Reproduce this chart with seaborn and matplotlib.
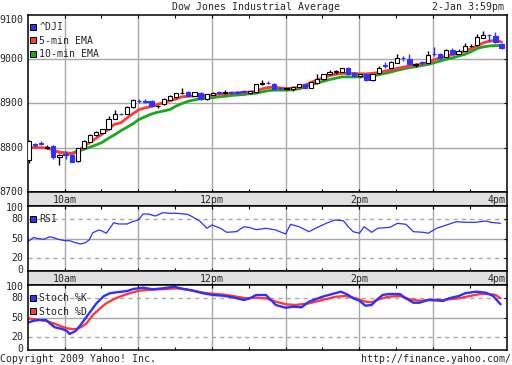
# Dow Jones intraday chart (2-Jan-2009): 5-min candles + EMAs, RSI and stochastic panels

import numpy as np
import matplotlib
matplotlib.use("Agg")
from matplotlib import pyplot as plt
from matplotlib.lines import Line2D
import seaborn as sns

# ---- data ----------------------------------------------------------------
# 5-min bars from 9:30 to 4pm
bar_open = [8772, 8808, 8810, 8798, 8804, 8779, 8785, 8783, 8770, 8800,
            8813, 8828, 8832, 8841, 8865, 8877, 8876, 8892, 8906, 8905,
            8905, 8894, 8898, 8908, 8915, 8923, 8925, 8917, 8924, 8909,
            8919, 8925, 8924, 8925, 8925, 8927, 8923, 8926, 8945, 8947,
            8945, 8935, 8933, 8933, 8938, 8943, 8936, 8946, 8955, 8966,
            8972, 8972, 8980, 8968, 8961, 8966, 8952, 8968, 8986, 8981,
            8992, 9003, 9000, 8988, 8993, 8992, 9012, 9012, 9006, 9022,
            9012, 9019, 9030, 9032, 9049, 9056, 9053, 9035]
bar_high = [8818, 8811, 8814, 8806, 8806, 8785, 8793, 8784, 8799, 8818,
            8830, 8837, 8843, 8872, 8885, 8879, 8895, 8910, 8910, 8909,
            8907, 8897, 8912, 8919, 8924, 8934, 8927, 8926, 8926, 8922,
            8925, 8928, 8930, 8928, 8929, 8930, 8929, 8944, 8953, 8950,
            8946, 8937, 8934, 8939, 8944, 8945, 8949, 8967, 8967, 8976,
            8976, 8981, 8982, 8970, 8967, 8967, 8967, 8984, 8993, 8996,
            9011, 9007, 9011, 8991, 8996, 9019, 9028, 9014, 9024, 9026,
            9024, 9036, 9034, 9057, 9064, 9057, 9062, 9037]
bar_low = [8766, 8802, 8805, 8796, 8774, 8760, 8775, 8767, 8768, 8798,
           8812, 8826, 8831, 8840, 8864, 8873, 8875, 8890, 8902, 8901,
           8893, 8890, 8896, 8907, 8913, 8921, 8916, 8916, 8908, 8908,
           8918, 8921, 8922, 8921, 8921, 8923, 8922, 8925, 8942, 8943,
           8930, 8931, 8931, 8928, 8937, 8934, 8935, 8945, 8954, 8964,
           8967, 8971, 8965, 8959, 8959, 8950, 8950, 8967, 8981, 8980,
           8991, 8996, 8987, 8983, 8988, 8991, 9008, 9001, 9005, 9011,
           9011, 9018, 9027, 9031, 9048, 9038, 9037, 9024]
bar_close = [8815, 8806, 8809, 8801, 8778, 8782, 8784, 8768, 8798, 8815,
             8828, 8835, 8841, 8864, 8877, 8876, 8892, 8907, 8905, 8904,
             8894, 8895, 8910, 8917, 8923, 8924, 8917, 8925, 8909, 8921,
             8924, 8924, 8925, 8924, 8924, 8926, 8928, 8943, 8946, 8946,
             8933, 8934, 8934, 8938, 8943, 8936, 8948, 8955, 8966, 8972,
             8973, 8980, 8966, 8961, 8966, 8952, 8966, 8981, 8985, 8994,
             9002, 9002, 8989, 8989, 8992, 9010, 9011, 9002, 9022, 9012,
             9019, 9030, 9031, 9050, 9055, 9055, 9038, 9026]

ema5 = [8800, 8800, 8800, 8799, 8794, 8789, 8787, 8785, 8791, 8803,
        8812, 8821, 8831, 8842, 8853, 8856, 8867, 8877, 8886, 8890,
        8893, 8898, 8902, 8906, 8910, 8915, 8916, 8917, 8918, 8918,
        8919, 8921, 8922, 8923, 8924, 8925, 8926, 8927, 8933, 8936,
        8937, 8935, 8934, 8934, 8937, 8941, 8948, 8953, 8958, 8963,
        8966, 8968, 8968, 8968, 8967, 8967, 8968, 8970, 8973, 8976,
        8979, 8982, 8985, 8987, 8989, 8993, 8999, 9003, 9007, 9010,
        9014, 9018, 9024, 9030, 9037, 9041, 9043, 9039]
ema10 = [np.nan, np.nan, np.nan, np.nan, 8792, 8790, 8788, 8787, 8792, 8796,
         8801, 8806, 8812, 8821, 8829, 8838, 8846, 8854, 8864, 8870,
         8876, 8880, 8883, 8886, 8894, 8900, 8905, 8908, 8911, 8912,
         8913, 8915, 8916, 8918, 8919, 8920, 8922, 8923, 8926, 8929,
         8930, 8930, 8930, 8931, 8933, 8937, 8942, 8946, 8950, 8954,
         8957, 8960, 8960, 8960, 8960, 8961, 8962, 8965, 8968, 8971,
         8975, 8978, 8981, 8983, 8986, 8988, 8992, 8996, 9000, 9003,
         9007, 9011, 9017, 9024, 9028, 9030, 9031, 9031]

# minutes after 9:30
rsi_min = [0, 5, 7, 13, 18, 21, 25, 30, 34, 39, 43, 47, 50, 53, 58, 60, 64, 70,
           74, 81, 85, 90, 94, 98, 104, 110, 116, 121, 130, 134, 140, 146, 150,
           157, 162, 170, 176, 181, 186, 194, 202, 210, 214, 221, 229, 236, 243,
           250, 257, 261, 265, 270, 274, 280, 285, 295, 301, 308, 314, 322, 326,
           333, 341, 349, 357, 365, 373, 377, 385]
rsi_val = [45.5, 52.3, 50.8, 49.2, 53.2, 51.7, 49.2, 47.1, 47.1, 44, 42, 44, 48.2,
           59.4, 63.5, 62.5, 58.5, 74.8, 72.8, 72.8, 76.3, 78.9, 88.2, 88.2, 85,
           90.2, 89.2, 89.2, 87.7, 84, 77.4, 66.2, 71.2, 66.2, 60, 61, 68.6, 67.1,
           64, 66.2, 63.5, 57.4, 72.3, 68.6, 61, 67.7, 73.8, 78.9, 77.8, 68.6, 61,
           58.5, 68.6, 60, 66.2, 67.7, 73.8, 72.3, 61, 60, 58.5, 66.2, 71.2, 76.3,
           75.4, 75.4, 77.4, 75.4, 73.8]

k_min = [0, 5, 10, 15, 18, 22, 28, 32, 34, 39, 43, 47, 51, 56, 62, 67, 72, 81,
         86, 94, 102, 110, 119, 127, 135, 143, 151, 159, 167, 176, 181, 186, 194,
         198, 202, 210, 216, 223, 229, 240, 248, 255, 261, 265, 270, 275, 280,
         284, 289, 294, 303, 308, 314, 319, 326, 334, 338, 343, 351, 356, 365,
         373, 379, 385]
k_val = [42.5, 45.5, 46.6, 46.6, 41.5, 35.4, 32.8, 29.7, 25.1, 29.7, 38.9, 49.2,
         59.4, 72.3, 83.5, 87.7, 89.2, 91.2, 94.3, 96.3, 93.8, 95.4, 97.8, 94.3,
         91.7, 87.7, 85.1, 84, 81.5, 77.4, 80, 85.1, 85.1, 77.4, 69.7, 65.5, 67.1,
         66.2, 74.8, 82.5, 86.6, 90.2, 85.1, 80, 76.3, 68.6, 69.7, 77.4, 85.1,
         86.6, 86.6, 80, 73.2, 73.2, 77.4, 77.4, 75.8, 80, 83.5, 87.7, 90.2, 88.6,
         83.5, 70.8]
d_min = [0, 5, 10, 15, 21, 26, 32, 36, 40, 44, 48, 53, 59, 64, 70, 75, 81, 86,
         91, 97, 105, 113, 121, 129, 138, 146, 154, 162, 170, 178, 186, 194, 202,
         210, 218, 229, 240, 251, 259, 267, 275, 280, 286, 294, 303, 311, 319,
         327, 335, 343, 351, 360, 368, 376, 381, 385]
d_val = [49.2, 47.7, 46.6, 45.1, 41.5, 37.8, 33.8, 32.8, 32.8, 36.3, 41.5, 54.3,
         64.6, 72.3, 78.5, 82.5, 86.6, 89.2, 91.7, 92.8, 93.8, 94.3, 95.4, 93.8,
         90.2, 87.7, 86.6, 85.1, 82.5, 80, 81, 80, 74.8, 70.8, 69.7, 72.3, 77.4,
         82.5, 83.5, 80, 74.8, 73.8, 78.5, 82.5, 83.5, 78.5, 76.3, 77.4, 76.3,
         78.5, 80, 83.5, 86.6, 86.6, 85.1, 80]

time_labels = ["10am", "12pm", "2pm", "4pm"]
time_label_min = [30, 150, 270, 390]
price_ticks = [8700, 8800, 8900, 9000, 9100]
osc_ticks = [0, 20, 50, 80, 100]

# ---- style -----------------------------------------------------------------
sns.set_style("white")
plt.rcParams["font.family"] = ["DejaVu Sans Mono"]
FS = 7.1
BLUE = "#3030ff"
RED = "#ff3a3a"
GREEN = "#1ca81c"
GRID = "#a8a8a8"

W_PX, H_PX = 512, 365
fig = plt.figure(figsize=(W_PX / 100, H_PX / 100), dpi=100)
fig.patch.set_facecolor("white")

X0, X1 = 27.7, 506.7


def rect(top, bot):
    return [X0 / W_PX, 1 - bot / H_PX, (X1 - X0) / W_PX, (bot - top) / H_PX]


ax_p = fig.add_axes(rect(15.1, 191.7))
band1 = fig.add_axes(rect(191.7, 206.3))
ax_r = fig.add_axes(rect(206.3, 271.3))
band2 = fig.add_axes(rect(271.3, 285.3))
ax_s = fig.add_axes(rect(285.3, 350.3))

hours = [30, 90, 150, 210, 270, 330]
half_hours = list(range(30, 390, 30))


def frame(ax, ylim, grid_solid, grid_dash, right_ticks):
    ax.set_xlim(0, 390)
    ax.set_ylim(*ylim)
    for h in hours:
        ax.axvline(h, color=GRID, lw=1, zorder=0)
    for g in grid_solid:
        ax.axhline(g, color=GRID, lw=1, zorder=0)
    for g in grid_dash:
        ax.axhline(g, color=GRID, lw=1, ls=(0, (3, 3)), zorder=0)
    ax.set_xticks(half_hours)
    ax.set_xticklabels([])
    ax.set_yticks(right_ticks)
    ax.set_yticklabels([])
    ax.tick_params(axis="x", which="both", direction="in", length=2.3, width=0.8,
                   top=True, bottom=True, color="black")
    ax.tick_params(axis="y", which="both", direction="in", length=2.3, width=0.8,
                   left=False, right=True, color="black")
    for sp in ax.spines.values():
        sp.set_color("black")
        sp.set_linewidth(1.1)
    ax.set_xlabel("")
    ax.set_ylabel("")


def ylabels(ax, ticks, labels, nudge=0.0):
    # nudge pulls the end labels inwards so they do not run into their neighbours
    tr = ax.get_yaxis_transform()
    lo, hi = min(ticks), max(ticks)
    for v, lab in zip(ticks, labels):
        y = v
        if nudge and v == hi:
            y = v - nudge
        elif nudge and v == lo:
            y = v + nudge
        va = "top" if (v == hi and not nudge) else "center"
        ax.text(-0.009, y, lab, transform=tr, ha="right", va=va, fontsize=FS)


def band(ax):
    ax.set_facecolor("#e0e0e0")
    ax.set_xlim(0, 390)
    ax.set_ylim(0, 1)
    ax.set_xticks([])
    ax.set_yticks([])
    for sp in ax.spines.values():
        sp.set_color("black")
        sp.set_linewidth(1.1)
    for t, lab in zip(time_label_min, time_labels):
        ha = "right" if t == max(time_label_min) else "center"
        ax.text(t - (1 if ha == "right" else 0), 0.45, lab, ha=ha, va="center",
                fontsize=FS)


# ---- price panel -------------------------------------------------------------
frame(ax_p, (8700, 9100), [8800, 8900, 9000], [], [8800, 8900, 9000])
ylabels(ax_p, price_ticks, [str(v) for v in price_ticks])

bar_x = np.arange(len(bar_open)) * 5 + 0.8
o = np.array(bar_open, float)
c = np.array(bar_close, float)
down = c < o
body_lo = np.minimum(o, c)
body_h = np.maximum(np.abs(c - o), 0.6)
ax_p.vlines(bar_x, bar_low, bar_high, colors=np.where(down, BLUE, "black"),
            linewidth=1.0, zorder=3)
ax_p.bar(bar_x, body_h, bottom=body_lo, width=3.5,
         color=np.where(down, BLUE, "white"),
         edgecolor=np.where(down, BLUE, "black"), linewidth=0.8, zorder=4)

sns.lineplot(x=bar_x, y=ema10, ax=ax_p, color=GREEN, linewidth=2.0, legend=False, zorder=2)
sns.lineplot(x=bar_x, y=ema5, ax=ax_p, color=RED, linewidth=2.0, legend=False, zorder=2)
ax_p.set_xlabel("")
ax_p.set_ylabel("")


def sq(col, lab):
    return Line2D([0], [0], marker="s", ls="none", markerfacecolor=col,
                  markeredgecolor="black", markeredgewidth=0.7, markersize=5, label=lab)


def legend(ax, handles, y):
    ax.legend(handles=handles, loc="upper left", bbox_to_anchor=(0.004, y),
              frameon=False, handlelength=0.6, handletextpad=0.4, labelspacing=0.36,
              borderpad=0, borderaxespad=0, fontsize=FS)


legend(ax_p, [sq(BLUE, "^DJI"), sq(RED, "5-min EMA"), sq(GREEN, "10-min EMA")], 0.96)

# ---- RSI panel ---------------------------------------------------------------
frame(ax_r, (0, 100), [50], [20, 80], [20, 50, 80])
ylabels(ax_r, osc_ticks, [str(v) for v in osc_ticks], nudge=2)
sns.lineplot(x=rsi_min, y=rsi_val, ax=ax_r, color=BLUE, linewidth=0.9, legend=False)
ax_r.set_xlabel("")
ax_r.set_ylabel("")
legend(ax_r, [sq(BLUE, "RSI")], 0.88)

# ---- stochastic panel ----------------------------------------------------------
frame(ax_s, (0, 100), [50], [20, 80], [20, 50, 80])
ylabels(ax_s, osc_ticks, [str(v) for v in osc_ticks], nudge=2)
sns.lineplot(x=d_min, y=d_val, ax=ax_s, color=RED, linewidth=1.7, legend=False)
sns.lineplot(x=k_min, y=k_val, ax=ax_s, color=BLUE, linewidth=1.7, legend=False)
ax_s.set_xlabel("")
ax_s.set_ylabel("")
legend(ax_s, [sq(BLUE, "Stoch %K"), sq(RED, "Stoch %D")], 0.88)

band(band1)
band(band2)

# ---- header / footer ---------------------------------------------------------------
fig.text(0.5, 1 - 7 / H_PX, "Dow Jones Industrial Average", ha="center", va="center", fontsize=FS)
fig.text(504 / W_PX, 1 - 7 / H_PX, "2-Jan 3:59pm", ha="right", va="center", fontsize=FS)
fig.text(0.0, 1 - 359 / H_PX, "Copyright 2009 Yahoo! Inc.", ha="left", va="center", fontsize=FS)
fig.text(511 / W_PX, 1 - 359 / H_PX, "http://finance.yahoo.com/", ha="right", va="center", fontsize=FS)

fig.savefig("out.png", dpi=100)
